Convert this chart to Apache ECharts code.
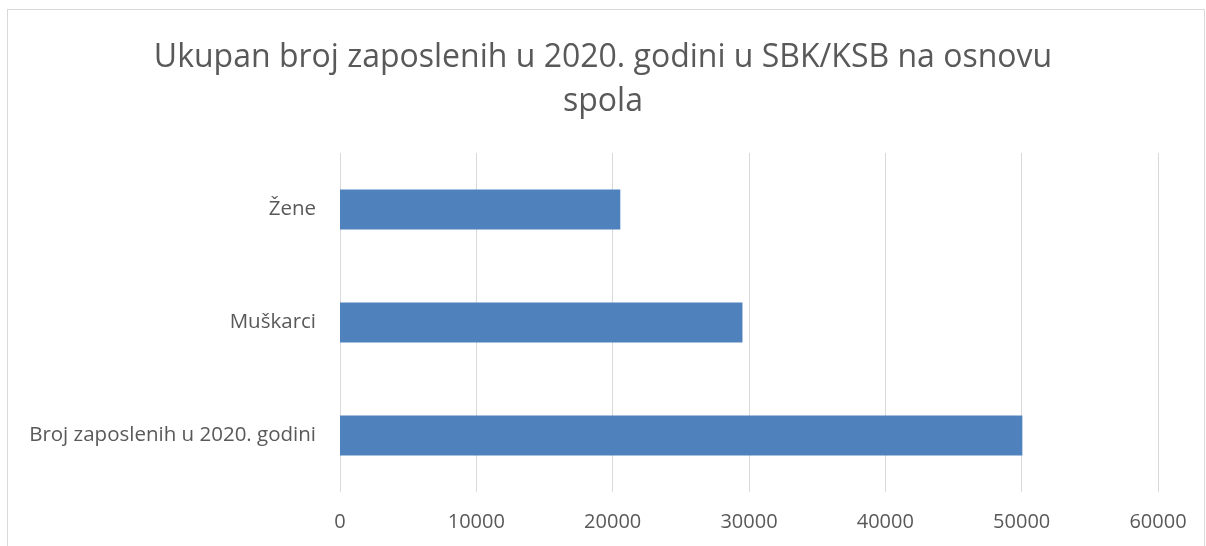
<!DOCTYPE html>
<html>
<head>
<meta charset="utf-8">
<script src="https://cdn.jsdelivr.net/npm/echarts@6/dist/echarts.min.js"></script>
<style>
  html, body { margin: 0; padding: 0; background: #fff; }
  #frame { position: absolute; left: 7px; top: 9px; width: 1196px; height: 560px; border: 1px solid #d9d9d9; }
  #container { position: absolute; left: 0; top: 0; width: 1206px; height: 546px; }
</style>
</head>
<body>
<div id="frame"></div>
<div id="container"></div>
<script type="text/javascript">
    // kategorije odozdo prema gore
    var categories = ['Broj zaposlenih u 2020. godini', 'Muškarci', 'Žene'];
    var values = [50050, 29520, 20560];
    var tickMax = 60000;
    var tickStep = 10000;

    var dom = document.getElementById("container");
    var myChart = echarts.init(dom, null, {renderer: 'canvas'});
    var font = 'Open Sans, Noto Sans, sans-serif';
    var option = {
        animation: false,
        title: {
            text: 'Ukupan broj zaposlenih u 2020. godini u SBK/KSB na osnovu\nspola',
            left: 'center',
            top: 31,
            textStyle: {
                fontFamily: font,
                fontSize: 32,
                fontWeight: 'normal',
                color: '#595959',
                lineHeight: 44
            }
        },
        grid: {
            left: 340,
            right: 48,
            top: 153,
            bottom: 54
        },
        xAxis: {
            type: 'value',
            min: 0,
            max: tickMax,
            interval: tickStep,
            axisLine: {show: false},
            axisTick: {show: false},
            splitLine: {lineStyle: {color: '#d9d9d9', width: 1}},
            axisLabel: {
                fontFamily: font,
                fontSize: 20,
                color: '#595959',
                margin: 20,
                formatter: function (v) { return String(v); }
            }
        },
        yAxis: {
            type: 'category',
            data: categories,
            axisLine: {show: false},
            axisTick: {show: false},
            axisLabel: {
                fontFamily: font,
                fontSize: 20.5,
                color: '#595959',
                margin: 24
            }
        },
        series: [{
            type: 'bar',
            data: values,
            barWidth: '35.5%',
            itemStyle: {color: '#4f81bd'}
        }]
    };
    myChart.setOption(option);
</script>
</body>
</html>
